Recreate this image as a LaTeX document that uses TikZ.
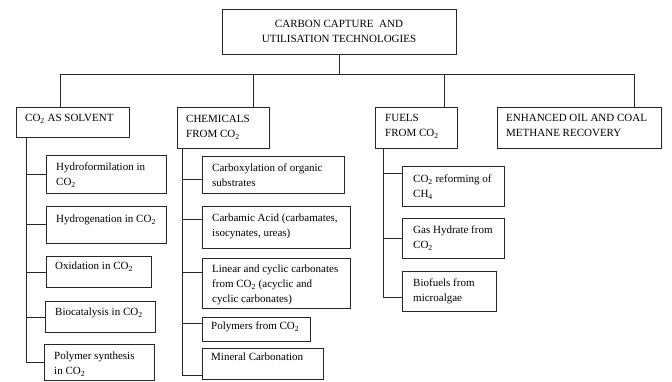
\documentclass[tikz,border=0pt]{standalone}
\usepackage{fontspec}
\setmainfont{Liberation Serif}
\usepackage{tikz}
\usetikzlibrary{positioning}
\newcommand{\cotwo}{CO\textsubscript{2}}

\tikzset{
	box/.style={draw=black!85, line width=0.8pt, anchor=north west, inner sep=0pt},
	lbl/.style={inner sep=0pt, align=left, font=\fontsize{11}{15}\selectfont},
	link/.style={draw=black!85, line width=0.8pt}
}

\begin{document}
\begin{tikzpicture}[x=1pt, y=1pt]
	\useasboundingbox (0,0) rectangle (672,-382);
	% main box
	\node[box, anchor=center, minimum width=234, minimum height=45, align=center, font=\fontsize{11}{15.5}\selectfont] (CCU) at (339,-31.5) {CARBON CAPTURE\ \ AND\\UTILISATION TECHNOLOGIES};
	% four groups
	\node[box, minimum width=113, minimum height=30] (SOL) at (16,-107) {};
	\node[box, minimum width=92, minimum height=41] (CHEM) at (177,-107) {};
	\node[box, minimum width=82, minimum height=41] (FUEL) at (375,-107) {};
	\node[box, minimum width=164, minimum height=41] (EOR) at (497,-107) {};
	\node[lbl, below right=7pt and 9pt of SOL.north west] (tSOL) {\cotwo{} AS SOLVENT};
	\node[lbl, below right=8pt and 9pt of CHEM.north west] (tCHEM) {CHEMICALS\\FROM \cotwo};
	\node[lbl, below right=7pt and 10pt of FUEL.north west] (tFUEL) {FUELS\\FROM \cotwo};
	\node[lbl, below right=7pt and 9pt of EOR.north west] (tEOR) {ENHANCED OIL AND COAL\\METHANE RECOVERY};
	% CO2 as solvent
	\node[box, minimum width=120, minimum height=38] (HF) at (46,-155) {};
	\node[box, minimum width=120, minimum height=37] (HG) at (46,-206) {};
	\node[box, minimum width=105, minimum height=31] (OX) at (46,-256) {};
	\node[box, minimum width=110, minimum height=31] (BC) at (45,-301) {};
	\node[box, minimum width=110, minimum height=36] (PS) at (44,-344) {};
	\node[lbl, below right=8pt and 10pt of HF.north west] (tHF) {Hydroformilation in\\\cotwo};
	\node[lbl, below right=9pt and 10pt of HG.north west] (tHG) {Hydrogenation in \cotwo};
	\node[lbl, below right=6pt and 9pt of OX.north west] (tOX) {Oxidation in \cotwo};
	\node[lbl, below right=7pt and 10pt of BC.north west] (tBC) {Biocatalysis in \cotwo};
	\node[lbl, below right=8pt and 10pt of PS.north west] (tPS) {Polymer synthesis\\in \cotwo};
	% chemicals
	\node[box, minimum width=142, minimum height=37] (CX) at (202,-156) {};
	\node[box, minimum width=148, minimum height=42] (CA) at (202,-206) {};
	\node[box, minimum width=148, minimum height=50] (LC) at (202,-258) {};
	\node[box, minimum width=108, minimum height=24] (PO) at (202,-317) {};
	\node[box, minimum width=121, minimum height=31] (MC) at (202,-348) {};
	\node[lbl, below right=8pt and 10pt of CX.north west] (tCX) {Carboxylation of organic\\substrates};
	\node[lbl, below right=8pt and 10pt of CA.north west] (tCA) {Carbamic Acid (carbamates,\\isocynates, ureas)};
	\node[lbl, below right=7pt and 10pt of LC.north west] (tLC) {Linear and cyclic carbonates\\from \cotwo{} (acyclic and\\cyclic carbonates)};
	\node[lbl, below right=5pt and 9pt of PO.north west] (tPO) {Polymers from \cotwo};
	\node[lbl, below right=5pt and 9pt of MC.north west] (tMC) {Mineral Carbonation};
	% fuels
	\node[box, minimum width=102, minimum height=40] (RF) at (402,-166) {};
	\node[box, minimum width=102, minimum height=40] (GH) at (402,-218) {};
	\node[box, minimum width=94, minimum height=40] (BF) at (402,-271) {};
	\node[lbl, below right=9pt and 11pt of RF.north west] (tRF) {\cotwo{} reforming of\\CH\textsubscript{4}};
	\node[lbl, below right=8pt and 11pt of GH.north west] (tGH) {Gas Hydrate from\\\cotwo};
	\node[lbl, below right=8pt and 11pt of BF.north west] (tBF) {Biofuels from\\microalgae};
	% tree lines
	\coordinate (b1) at (60,-74);
	\coordinate (b2) at (253,-74);
	\coordinate (b3) at (444,-74);
	\coordinate (b4) at (634,-74);
	\draw[link] (CCU.south) -- (CCU.south |- b1);
	\draw[link] (b1) -- (b4);
	\draw[link] (b1) -- (b1 |- SOL.north);
	\draw[link] (b2) -- (b2 |- CHEM.north);
	\draw[link] (b3) -- (b3 |- FUEL.north);
	\draw[link] (b4) -- (b4 |- EOR.north);
	\coordinate (s1) at ([xshift=10]SOL.south west);
	\coordinate (s2) at ([xshift=5]CHEM.south west);
	\coordinate (s3) at ([xshift=8]FUEL.south west);
	\foreach \c in {HF,HG,OX,BC,PS}
		\draw[link] (s1) |- (\c.west);
	\foreach \c/\d in {CX/-4.5,CA/8,LC/11,PO/6,MC/-11.5}
		\draw[link] (s2) |- ([yshift=\d]\c.west);
	\foreach \c/\d in {RF/13,GH/0,BF/-6}
		\draw[link] (s3) |- ([yshift=\d]\c.west);
\end{tikzpicture}
\end{document}
